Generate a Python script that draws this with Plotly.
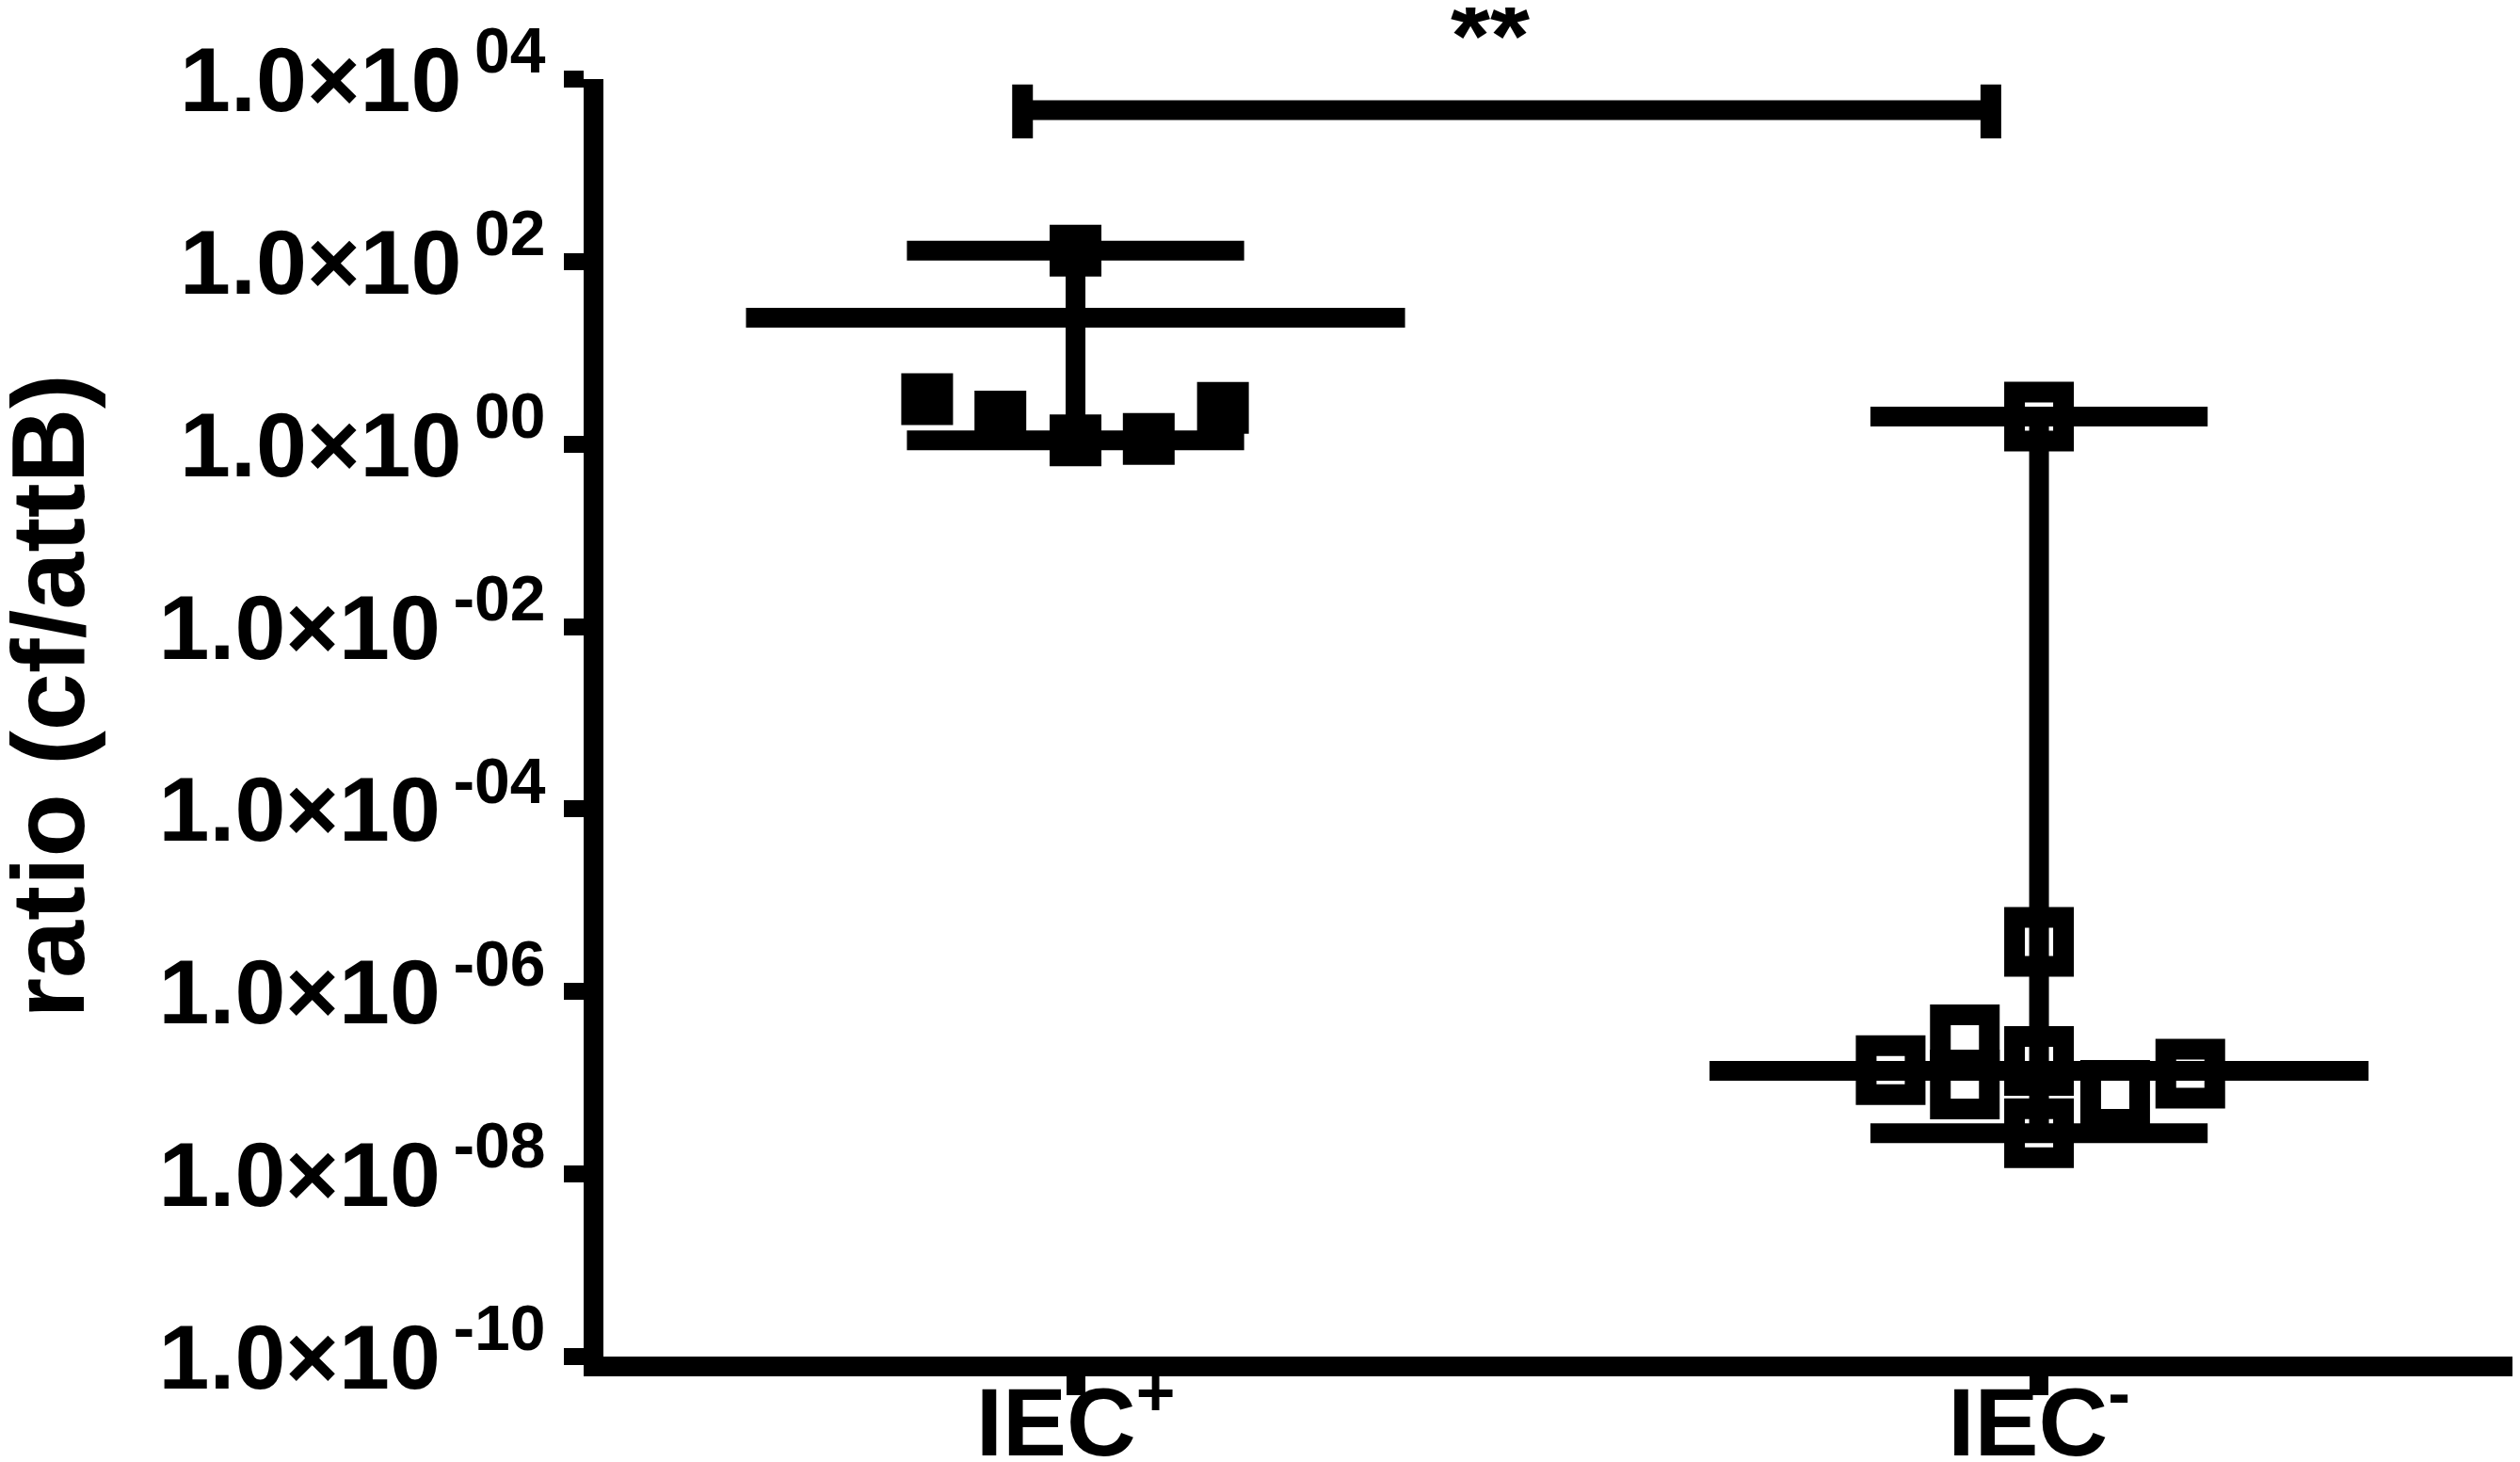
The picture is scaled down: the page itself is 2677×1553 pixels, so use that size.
import plotly.graph_objects as go

# ---------------- data ----------------
categories = ["IEC<sup>+</sup>", "IEC<sup>-</sup>"]

iec_pos_offsets = [-0.154, -0.078, 0.0, 0.0, 0.076, 0.153]
iec_pos_values = [3.1, 2.0, 1.1, 132.0, 1.14, 2.5]

iec_neg_offsets = [0.0, 0.0, -0.154, -0.077, -0.077, 0.0, 0.0, 0.079, 0.157]
iec_neg_values = [2.0, 3.5e-6, 1.38e-7, 3.0e-7, 9.6e-8, 1.74e-7, 2.8e-8, 7.4e-8, 1.26e-7]

center_line_values = [24.2, 1.35e-7]   # horizontal central line per group

y_tick_exponents = [4, 2, 0, -2, -4, -6, -8, -10]
y_tick_labels = ["1.0×10<sup>\u2009%s</sup>" % ("%03d" % e if e < 0 else "%02d" % e)
                 for e in y_tick_exponents]

y_title = "ratio (cf/attB)"
sig_label = "**"
sig_x = [-0.055, 0.95]      # comparison bar ends (group positions)
sig_y = 10 ** 3.66
sig_cap = [10 ** 3.35, 10 ** 3.94]

# ---------------- figure ----------------
BLACK = "black"
LW = 21
FONT = "Liberation Sans"

fig = go.Figure()

groups = [
    (0, iec_pos_offsets, iec_pos_values, "square", 55, 0),
    (1, iec_neg_offsets, iec_neg_values, "square-open", 52, 22),
]

for gi, offs, vals, sym, size, mlw in groups:
    lo, hi = min(vals), max(vals)
    # vertical range line
    fig.add_trace(go.Scatter(x=[gi, gi], y=[lo, hi], mode="lines",
                             line=dict(color=BLACK, width=LW), hoverinfo="skip", showlegend=False))
    # whisker caps
    for v in (lo, hi):
        fig.add_trace(go.Scatter(x=[gi - 0.175, gi + 0.175], y=[v, v], mode="lines",
                                 line=dict(color=BLACK, width=LW), hoverinfo="skip", showlegend=False))
    # central line
    c = center_line_values[gi]
    fig.add_trace(go.Scatter(x=[gi - 0.342, gi + 0.342], y=[c, c], mode="lines",
                             line=dict(color=BLACK, width=LW), hoverinfo="skip", showlegend=False))
    # points
    fig.add_trace(go.Scatter(x=[gi + o for o in offs], y=vals, mode="markers",
                             marker=dict(symbol=sym, size=size, color=BLACK,
                                         line=dict(color=BLACK, width=mlw)),
                             showlegend=False))

# significance bar
fig.add_trace(go.Scatter(x=sig_x, y=[sig_y, sig_y], mode="lines",
                         line=dict(color=BLACK, width=LW), hoverinfo="skip", showlegend=False))
for xe in sig_x:
    fig.add_trace(go.Scatter(x=[xe, xe], y=sig_cap, mode="lines",
                             line=dict(color=BLACK, width=22), hoverinfo="skip", showlegend=False))

fig.add_annotation(x=0.43, xref="x", y=1.0, yref="paper", yanchor="bottom", yshift=-16,
                   text="<b>%s</b>" % sig_label, showarrow=False,
                   font=dict(family=FONT, size=108, color=BLACK))

# y-axis title (placed as rotated text at the far left)
fig.add_annotation(x=-0.289, xref="paper", y=0.517, yref="paper", xanchor="center", yanchor="middle",
                   text="<b>%s</b>" % y_title, textangle=-90, showarrow=False,
                   font=dict(family=FONT, size=110, color=BLACK))

fig.update_layout(
    width=2677, height=1553,
    margin=dict(l=633, r=0, t=76, b=120, autoexpand=False),
    paper_bgcolor="white", plot_bgcolor="white",
    font=dict(family=FONT, color=BLACK, size=100, weight="bold"),
    xaxis=dict(range=[-0.49, 1.507], tickmode="array", tickvals=[0, 1], ticktext=categories,
               showline=True, linewidth=LW, linecolor=BLACK, ticks="outside", ticklen=20,
               tickwidth=20, tickcolor=BLACK, showgrid=False, zeroline=False, automargin=False,
               ticklabelstandoff=-58,
               tickfont=dict(family=FONT, size=102, color=BLACK, weight="bold")),
    yaxis=dict(type="log", range=[-10, 4], tickmode="array",
               tickvals=[10 ** e for e in y_tick_exponents], ticktext=y_tick_labels,
               showline=True, linewidth=LW, linecolor=BLACK, ticks="outside", ticklen=21,
               tickwidth=18, tickcolor=BLACK, showgrid=False, zeroline=False, automargin=False,
               tickfont=dict(family=FONT, size=97, color=BLACK, weight="bold")),
)

fig.write_html("out.html")
